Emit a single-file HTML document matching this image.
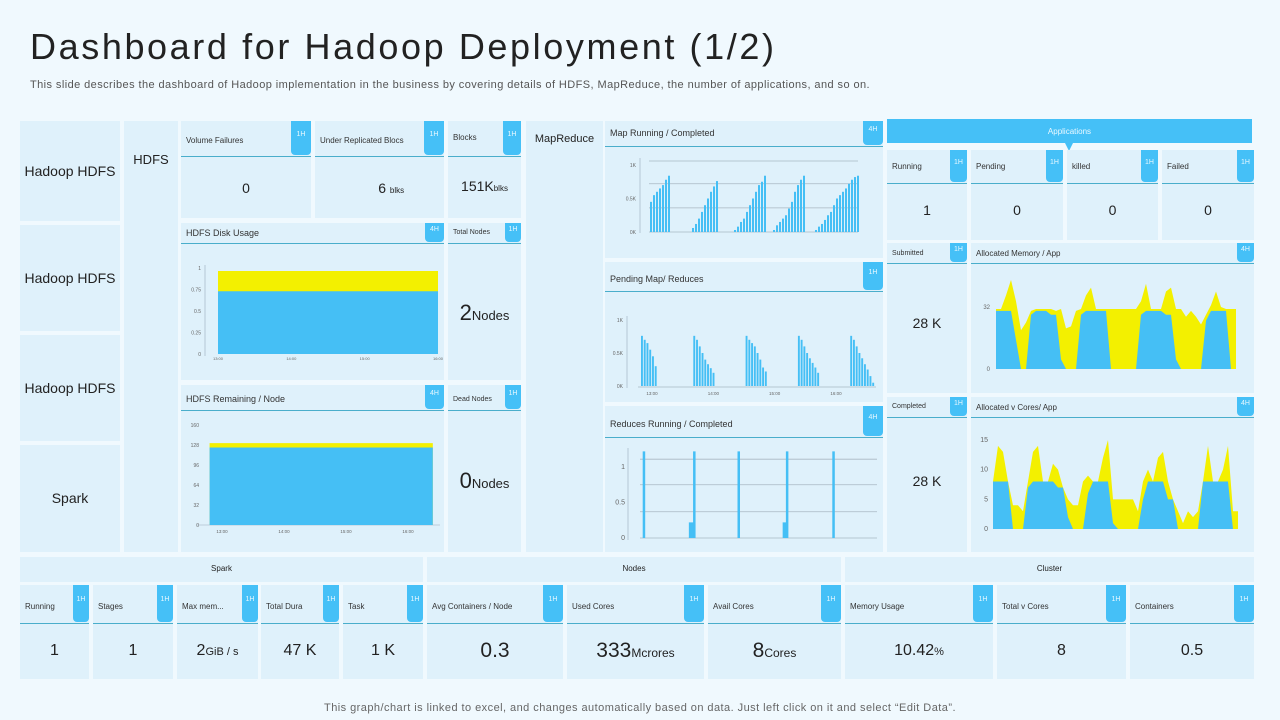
<!DOCTYPE html>
<html><head><meta charset="utf-8"><style>
*{box-sizing:border-box;margin:0;padding:0}
body{width:1280px;height:720px;background:#f0f9fe;font-family:"Liberation Sans",sans-serif;color:#222;position:relative;overflow:hidden}
.p{position:absolute;background:#dff1fb}
.t{position:absolute;font-size:9px;color:#333;white-space:nowrap}
.b{position:absolute;background:#45c0f7;border-radius:0 0 4px 4px;color:#e8f8ff;font-size:7px;text-align:center;padding-top:6px}
.l{position:absolute;height:1px;background:#4aaecb}
.v{position:absolute;text-align:center;color:#222;white-space:nowrap}
#title{position:absolute;left:30px;top:26px;font-size:36px;color:#222;letter-spacing:2.6px}
#sub{position:absolute;left:30px;top:79px;font-size:11px;color:#555;letter-spacing:0.42px}
#foot{position:absolute;left:0;width:1280px;top:702px;text-align:center;font-size:11px;color:#666;letter-spacing:0.45px}
svg{position:absolute;left:0;top:0;pointer-events:none}
</style></head><body>
<div id="title">Dashboard for Hadoop Deployment (1/2)</div>
<div id="sub">This slide describes the dashboard of Hadoop implementation in the business by covering details of HDFS, MapReduce, the number of applications, and so on.</div>
<div id="foot">This graph/chart is linked to excel, and changes automatically based on data. Just left click on it and select “Edit Data”.</div>
<div id="root"></div>
<svg id="charts" width="1280" height="720"></svg>
<script>
// ---- chart data ----
const diskTimes=[13,16];
const diskUsed=[0.73,0.73];
const diskTotal=[0.965,0.965];
const diskTicks=[0,0.25,0.5,0.75,1];
const diskTickLabels=["0","0.25","0.5","0.75","1"];
const timeTickLabels=["13:00","14:00","15:00","16:00"];
const remainTimes=[12.8,16.4];
const remainUsed=[124,124];
const remainTotal=[131,131];
const remainTicks=[0,32,64,96,128,160];
const mapValues=[0.45,0.55,0.6,0.65,0.7,0.78,0.84,0,0,0,0,0,0,0,0.06,0.12,0.2,0.3,0.4,0.5,0.6,0.68,0.76,0,0,0,0,0,0.03,0.08,0.15,0.2,0.3,0.4,0.5,0.6,0.7,0.75,0.84,0,0,0.03,0.1,0.15,0.2,0.25,0.35,0.45,0.6,0.7,0.78,0.84,0,0,0,0.03,0.08,0.12,0.18,0.25,0.3,0.4,0.5,0.55,0.6,0.65,0.72,0.78,0.82,0.84];
const mapTicks=[0,0.5,1];
const mapTickLabels=["0K","0.5K","1K"];
const mapGrid=[0.36,0.72,1.06];
const pendValues=[0.76,0.7,0.65,0.55,0.45,0.3,0,0,0,0,0,0,0,0,0,0,0,0,0,0.76,0.7,0.6,0.5,0.4,0.33,0.27,0.2,0,0,0,0,0,0,0,0,0,0,0,0.76,0.7,0.65,0.6,0.5,0.4,0.28,0.22,0,0,0,0,0,0,0,0,0,0,0,0.76,0.7,0.6,0.5,0.42,0.35,0.28,0.2,0,0,0,0,0,0,0,0,0,0,0,0.76,0.7,0.6,0.5,0.42,0.33,0.25,0.15,0.05];
const pendTicks=[0,0.5,1];
const pendTickLabels=["0K","0.5K","1K"];
const pendTimeTicks=[13,14,15,16];
const reduceTimes=[4,52,55,100,147,149,196];
const reduceValues=[1.22,0.22,1.22,1.22,0.22,1.22,1.22];
const reduceTicks=[0,0.5,1];
const reduceTickLabels=["0","0.5","1"];
const reduceGrid=[0.37,0.75,1.11];
const memBlue=[30,30,30,30,15,0,0,28,30,30,30,28,28,5,0,0,0,28,30,30,30,30,30,0,0,0,0,0,0,28,30,30,30,30,28,28,5,0,0,0,0,0,25,30,30,30,30,0,0];
const memYellow=[31,31,38,46,35,20,24,30,31,31,31,31,30,31,21,22,30,31,38,42,31,31,31,31,31,31,31,31,31,35,44,31,31,31,40,42,31,31,27,30,27,23,28,33,40,32,31,31,31];
const memTicks=[0,32];
const coreBlue=[8,8,8,8,0,0,0,7,8,8,8,8,8,7,7,2,0,0,0,6,8,8,8,8,1,0,0,0,0,0,5,8,8,8,8,5,5,0,0,0,0,0,8,8,8,8,8,8,0,0];
const coreYellow=[8,14,13,8,4,4,3,8,13,14,8,8,11,10,7,5,4,4,8,9,8,8,12,15,5,5,5,5,5,3,8,10,8,12,13,8,5,3,1,3,2,3,8,14,8,8,10,14,3,3];
const coreTicks=[0,5,10,15];

// ---- panels ----
const root=document.getElementById('root');
function panel(name,x,y,w,h,title,ts,badge,bw,lineY,titleY){
  const el=document.createElement('div');
  el.className='p';
  el.style.cssText=`left:${x}px;top:${y}px;width:${w}px;height:${h}px`;
  
  
  if(title){
    const t=document.createElement('div');
    t.className='t';t.textContent=title;
    t.style.cssText=`left:5px;top:${titleY-y-ts/2-1}px;font-size:${ts}px`;
    
    
    el.appendChild(t);
  }
  if(badge){
    const b=document.createElement('div');
    b.className='b';b.textContent=badge;
    b.style.cssText=`right:0;top:0;width:${bw}px;height:${lineY-y-1}px;padding-top:${Math.max(3,(lineY-y)/2-8)}px`;
    
    
    el.appendChild(b);
    const l=document.createElement('div');
    l.className='l';l.style.cssText=`left:0;right:0;top:${lineY-y}px`;
    el.appendChild(l);
  }
  root.appendChild(el);
  return el;
}
function val(el,html,cy,fs){
  const v=document.createElement('div');
  v.className='v';v.innerHTML=html;
  v.style.cssText=`left:0;right:0;top:${cy-parseInt(el.style.top)-fs*0.6}px;font-size:${fs}px`;
  
  
  el.appendChild(v);
}
[[121,221,'Hadoop HDFS'],[225,331,'Hadoop HDFS'],[335,441,'Hadoop HDFS'],[445,552,'Spark']].forEach((r,i)=>{
  const e=panel('section-'+i,20,r[0],100,r[1]-r[0]);val(e,r[2],(r[0]+r[1])/2,14);
});
let e=panel('hdfs-column',124,121,54,431);val(e,'HDFS',160,13);
e=panel('mapreduce-column',526,121,77,431);val(e,'MapReduce',140,11);
e=panel('volume-failures',181,121,130,97,'Volume Failures',8,'1H',20,156,141);val(e,'0',188,14);
e=panel('under-replicated-blocks',315,121,129,97,'Under Replicated Blocs',8,'1H',20,156,141);val(e,'&nbsp;&nbsp;&nbsp;&nbsp;&nbsp;&nbsp;6 <span style="font-size:8px">blks</span>',188,14);
e=panel('blocks',448,121,73,97,'Blocks',8,'1H',18,156,138);val(e,'151K<span style="font-size:8px">blks</span>',186,14);
panel('hdfs-disk-usage',181,223,263,157,'HDFS Disk Usage',9,'4H',19,243,233);
e=panel('total-nodes',448,223,73,157,'Total Nodes',7,'1H',16,243,233);val(e,'2<span style="font-size:13px">Nodes</span>',313,22);
panel('hdfs-remaining',181,385,263,167,'HDFS Remaining / Node',9,'4H',19,410,399);
e=panel('dead-nodes',448,385,73,167,'Dead Nodes',7,'1H',16,410,400);val(e,'0<span style="font-size:13px">Nodes</span>',481,22);
panel('map-running-completed',605,121,278,137,'Map Running / Completed',9,'4H',20,146,133);
panel('pending-map-reduces',605,262,278,140,'Pending Map/ Reduces',9,'1H',20,291,279);
panel('reduces-running-completed',605,406,278,146,'Reduces Running / Completed',9,'4H',20,437,424);
const ab=document.createElement('div');
ab.style.cssText='position:absolute;left:887px;top:119px;width:365px;height:24px;background:#45c0f7;color:#eaf8ff;font-size:8px;text-align:center;line-height:26px';
ab.textContent='Applications';


root.appendChild(ab);
const tri=document.createElement('div');
tri.style.cssText='position:absolute;left:1065px;top:143px;width:0;height:0;border-left:4px solid transparent;border-right:4px solid transparent;border-top:8px solid #45c0f7';
root.appendChild(tri);
[['running',887,80,'Running','1'],['pending',971,92,'Pending','0'],['killed',1067,91,'killed','0'],['failed',1162,92,'Failed','0']].forEach(a=>{
  const p=panel('app-'+a[0],a[1],150,a[2],90,a[3],8,'1H',17,183,167);val(p,a[4],210,14);
});
e=panel('submitted',887,243,80,150,'Submitted',7,'1H',17,263,254);val(e,'28 K',323,14);
panel('allocated-memory',971,243,283,150,'Allocated Memory / App',8,'4H',17,263,254);
e=panel('completed',887,397,80,155,'Completed',7,'1H',17,417,407);val(e,'28 K',481,14);
panel('allocated-vcores',971,397,283,155,'Allocated v Cores/ App',8,'4H',17,417,408);
[['spark-header',20,403,'Spark'],['nodes-header',427,414,'Nodes'],['cluster-header',845,409,'Cluster']].forEach(h=>{
  const p=panel(h[0],h[1],557,h[2],25);val(p,h[3],569,8);
});
[['spark-running',20,69,'Running','1',16],['spark-stages',93,80,'Stages','1',16],['spark-max-mem',177,81,'Max mem...','2<span style="font-size:11px">GiB / s</span>',16],['spark-total-duration',261,78,'Total Dura','47 K',16],['spark-task',343,80,'Task','1 K',16],
 ['avg-containers',427,136,'Avg Containers / Node','0.3',21],['used-cores',567,137,'Used Cores','333<span style="font-size:12px">Mcrores</span>',21],['avail-cores',708,133,'Avail Cores','8<span style="font-size:12px">Cores</span>',21],
 ['memory-usage',845,148,'Memory Usage','10.42<span style="font-size:11px">%</span>',16],['total-vcores',997,129,'Total v Cores','8',16],['containers',1130,124,'Containers','0.5',16]].forEach(c=>{
  const bw=c[2]>120?20:16;
  const p=panel(c[0],c[1],585,c[2],94,c[3],8,'1H',bw,623,607);val(p,c[4],652,c[5]);
});

// ---- charts ----
const svg=document.getElementById('charts');
const NS='http://www.w3.org/2000/svg';
const BLUE='#45bff5',YEL='#f3f000',AX='#9ab',GR='#a9b8c2';
function mk(tag,attrs,name){const el=document.createElementNS(NS,tag);for(const k in attrs)el.setAttribute(k,attrs[k]);

svg.appendChild(el);return el;}
function txt(x,y,s,fs,anchor,name){const t=mk('text',{x:x,y:y,'font-size':fs,fill:'#666','text-anchor':anchor||'end','font-family':'Liberation Sans, sans-serif'},name);t.textContent=s;return t;}
function lin(d0,d1,r0,r1){return v=>r0+(v-d0)/(d1-d0)*(r1-r0);}
function area(xs,ys,xf,yf,y0,fill,name){
  let d=`M${xf(xs[0])},${y0}`;xs.forEach((x,i)=>d+=` L${xf(x)},${yf(ys[i])}`);d+=` L${xf(xs[xs.length-1])},${y0} Z`;
  mk('path',{d:d,fill:fill},name);
}
(function(){const xf=lin(13,16,218,438),yf=lin(0,1,354,268);
 mk('line',{x1:205,y1:265,x2:205,y2:356,stroke:AX,'stroke-width':0.6},'disk-y-axis');
 area(diskTimes,diskTotal,xf,yf,354,YEL,'disk-total-area');
 area(diskTimes,diskUsed,xf,yf,354,BLUE,'disk-used-area');
 diskTicks.forEach((v,i)=>txt(201,yf(v)+2,diskTickLabels[i],5,'end','disk-y-tick'));
 [13,14,15,16].forEach((v,i)=>txt(xf(v),360,timeTickLabels[i],4,'middle','disk-x-tick'));
})();
(function(){const xf=lin(13,16,222,408),yf=lin(0,160,525,425);
 mk('line',{x1:197,y1:525,x2:440,y2:525,stroke:AX,'stroke-width':0.6},'remain-x-axis');
 area(remainTimes,remainTotal,xf,yf,525,YEL,'remain-total-area');
 area(remainTimes,remainUsed,xf,yf,525,BLUE,'remain-used-area');
 remainTicks.forEach(v=>txt(199,yf(v)+2,String(v),5,'end','remain-y-tick'));
 [13,14,15,16].forEach((v,i)=>txt(xf(v),533,timeTickLabels[i],4.5,'middle','remain-x-tick'));
})();
(function(){const n=mapValues.length,xf=lin(0,n,650,860),yf=lin(0,1,232,165);
 mk('line',{x1:640,y1:158,x2:640,y2:233,stroke:AX,'stroke-width':0.6},'map-y-axis');
 mk('line',{x1:649,y1:232,x2:858,y2:232,stroke:GR,'stroke-width':0.8},'map-baseline');
 mapGrid.forEach(v=>mk('line',{x1:649,y1:yf(v),x2:858,y2:yf(v),stroke:GR,'stroke-width':0.8},'map-grid'));
 mapValues.forEach((v,i)=>{if(v>0)mk('rect',{x:xf(i),y:yf(v),width:2,height:232-yf(v),fill:BLUE},'map-bar');});
 mapTicks.forEach((v,i)=>txt(636,yf(v)+2,mapTickLabels[i],5,'end','map-y-tick'));
})();
(function(){const n=pendValues.length,xf=lin(0,n,641,875),yf=lin(0,1,386,320);
 mk('line',{x1:627,y1:316,x2:627,y2:388,stroke:AX,'stroke-width':0.6},'pend-y-axis');
 mk('line',{x1:638,y1:387,x2:876,y2:387,stroke:GR,'stroke-width':0.8},'pend-baseline');
 pendValues.forEach((v,i)=>{if(v>0)mk('rect',{x:xf(i),y:yf(v),width:1.9,height:386-yf(v),fill:BLUE},'pend-bar');});
 pendTicks.forEach((v,i)=>txt(623,yf(v)+2,pendTickLabels[i],5,'end','pend-y-tick'));
 const tx=lin(13,16,652,836);pendTimeTicks.forEach((v,i)=>txt(tx(v),395,timeTickLabels[i],4.5,'middle','pend-x-tick'));
})();
(function(){const xf=lin(0,240,640,877),yf=lin(0,1,538,467);
 mk('line',{x1:628,y1:448,x2:628,y2:540,stroke:AX,'stroke-width':0.6},'reduce-y-axis');
 mk('line',{x1:640,y1:538,x2:877,y2:538,stroke:GR,'stroke-width':0.8},'reduce-baseline');
 reduceGrid.forEach(v=>mk('line',{x1:640,y1:yf(v),x2:877,y2:yf(v),stroke:GR,'stroke-width':0.8},'reduce-grid'));
 reduceValues.forEach((v,i)=>{const w=v<1?5:2.5;mk('rect',{x:xf(reduceTimes[i])-w/2,y:yf(v),width:w,height:538-yf(v),fill:BLUE},'reduce-bar');});
 reduceTicks.forEach((v,i)=>txt(625,yf(v)+2,reduceTickLabels[i],7,'end','reduce-y-tick'));
})();
(function(){const n=memBlue.length,xs=memBlue.map((_,i)=>i),xf=lin(0,n-1,996,1236),yf=lin(0,32,369,307);
 area(xs,memYellow,xf,yf,369,YEL,'mem-yellow-area');
 area(xs,memBlue,xf,yf,369,BLUE,'mem-blue-area');
 memTicks.forEach(v=>txt(990,yf(v)+2,String(v),6,'end','mem-y-tick'));
})();
(function(){const n=coreBlue.length,xs=coreBlue.map((_,i)=>i),xf=lin(0,n-1,993,1238),yf=lin(0,15,529,440);
 area(xs,coreYellow,xf,yf,529,YEL,'cores-yellow-area');
 area(xs,coreBlue,xf,yf,529,BLUE,'cores-blue-area');
 coreTicks.forEach(v=>txt(988,yf(v)+2,String(v),7,'end','cores-y-tick'));
})();
</script>
</body></html>
